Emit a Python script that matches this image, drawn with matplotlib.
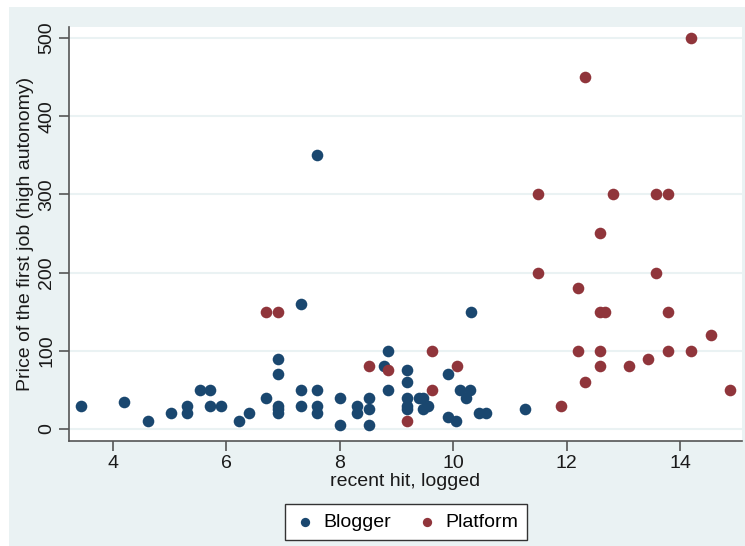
import matplotlib
matplotlib.use("Agg")
import matplotlib.pyplot as plt
from matplotlib.patches import Rectangle

plt.rcParams['font.family'] = ['Liberation Sans', 'DejaVu Sans']

# Blogger points (x = recent hit logged, y = price)
blog_x = [3.44, 4.19, 4.62, 5.02, 5.30, 5.30, 5.53, 5.71, 5.71, 5.90,
          6.22, 6.39, 6.69, 6.91, 6.91, 6.91, 6.91, 6.91, 7.31, 7.31,
          7.31, 7.60, 7.60, 7.60, 7.60, 8.00, 8.00, 8.30, 8.30, 8.51,
          8.51, 8.51, 8.77, 8.84, 8.84, 9.19, 9.19, 9.19, 9.19, 9.19,
          9.39, 9.46, 9.46, 9.55, 9.90, 9.90, 10.04, 10.11, 10.23, 10.30,
          10.31, 10.45, 10.58, 11.27]
blog_y = [30, 35, 10, 20, 30, 20, 50, 50, 30, 30,
          10, 20, 40, 90, 70, 30, 25, 20, 160, 50,
          30, 350, 50, 30, 20, 40, 5, 30, 20, 40,
          25, 5, 80, 100, 50, 75, 60, 40, 30, 25,
          40, 40, 25, 30, 70, 15, 10, 50, 40, 50,
          150, 20, 20, 25]

# Platform points
plat_x = [6.69, 6.91, 8.51, 8.84, 9.19, 9.62, 9.62, 10.06, 11.50, 11.50,
          11.90, 12.19, 12.19, 12.33, 12.33, 12.59, 12.59, 12.67, 12.59, 12.59,
          12.82, 13.10, 13.44, 13.58, 13.58, 13.79, 13.79, 13.79, 14.19, 14.19,
          14.55, 14.88]
plat_y = [150, 150, 80, 75, 10, 100, 50, 80, 300, 200,
          30, 180, 100, 450, 60, 250, 150, 150, 100, 80,
          300, 80, 90, 300, 200, 300, 150, 100, 500, 100,
          120, 50]

navy = '#1A476F'
maroon = '#90353B'
bg = '#EAF2F3'

fig = plt.figure(figsize=(7.45, 5.46), dpi=100)
fig.patch.set_facecolor('white')
fig.patches.append(Rectangle((9 / 745, 0), 1, 1 - 7 / 546, transform=fig.transFigure,
                             facecolor=bg, edgecolor='none', zorder=-10))

ax = fig.add_axes([69 / 745, 1 - 441 / 546, (742 - 69) / 745, (441 - 27) / 546])
ax.set_facecolor('white')

ax.scatter(blog_x, blog_y, s=70, color=navy, label='Blogger', zorder=3, linewidths=0)
ax.scatter(plat_x, plat_y, s=70, color=maroon, label='Platform', zorder=3, linewidths=0)

ax.set_xlim(3.224, 15.09)
ax.set_ylim(-15.3, 514)
ax.set_xticks([4, 6, 8, 10, 12, 14])
ax.set_yticks([0, 100, 200, 300, 400, 500])
ax.yaxis.grid(True, color=bg, linewidth=1.5, zorder=0)
ax.set_axisbelow(True)

for s in ['top', 'right']:
    ax.spines[s].set_visible(False)
for s in ['left', 'bottom']:
    ax.spines[s].set_color('#555555')
    ax.spines[s].set_linewidth(1.2)

ax.tick_params(axis='both', direction='out', length=7, width=1.2, color='#555555',
               labelsize=14, labelcolor='#1a1a1a', pad=3)
for lbl in ax.get_yticklabels():
    lbl.set_rotation(90)
    lbl.set_va('center')

ax.set_xlabel('recent hit, logged', fontsize=14, color='#1a1a1a', labelpad=1)
ax.set_ylabel('Price of the first job (high autonomy)', fontsize=14, color='#1a1a1a', labelpad=3)

leg = fig.legend(loc='center', bbox_to_anchor=(406 / 745, 1 - 522 / 546), ncol=2,
                 fontsize=14, frameon=True, fancybox=False, markerscale=0.8,
                 handletextpad=0.4, columnspacing=1.3, borderpad=0.45, handlelength=1.1)
leg.get_frame().set_edgecolor('#333333')
leg.get_frame().set_linewidth(1.0)
leg.get_frame().set_facecolor('white')
leg.get_frame().set_alpha(1)

fig.savefig('out.png', dpi=100)
